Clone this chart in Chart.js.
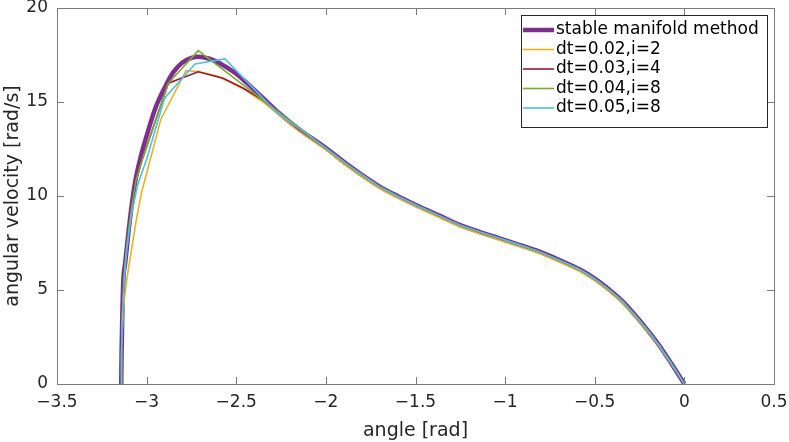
<!DOCTYPE html>
<html>
<head>
<meta charset="utf-8">
<script src="https://cdn.jsdelivr.net/npm/chart.js@4"></script>
<style>
  html, body { margin: 0; padding: 0; background: #fff; }
  #wrap { width: 789px; height: 442px; }
</style>
</head>
<body>
<div id="wrap"><canvas id="chart" width="789" height="442"></canvas></div>
<script>
// Axis ticks
const xTicks = [-3.5, -3, -2.5, -2, -1.5, -1, -0.5, 0, 0.5];
const yTicks = [0, 5, 10, 15, 20];

// Series names
const seriesNames = ['stable manifold method', 'dt=0.02,i=2', 'dt=0.03,i=4', 'dt=0.04,i=8', 'dt=0.05,i=8'];
const seriesColors = ['#7E2F8E', '#EDB120', '#A2142F', '#77AC30', '#4DBEEE'];

// Shared smooth tail (angle > -2)
const tailAngle = [-2.0, -1.87, -1.7, -1.59, -1.477, -1.36, -1.254, -1.14, -1.031, -0.92, -0.808, -0.7, -0.585, -0.5, -0.417, -0.35, -0.278, -0.2, -0.14, -0.07, 0];
const tailVel = [12.55, 11.6, 10.5, 9.95, 9.43, 8.93, 8.46, 8.08, 7.75, 7.4, 7.04, 6.6, 6.1, 5.6, 5.0, 4.45, 3.7, 2.8, 2.05, 1.05, 0];
const tailVelDt002 = [12.45, 11.5, 10.4, 9.85, 9.33, 8.83, 8.36, 7.98, 7.65, 7.3, 6.94, 6.5, 6.0, 5.5, 4.9, 4.35, 3.6, 2.72, 1.98, 1.0, 0];

// stable manifold method (head part)
const manifoldAngle = [-3.1416, -3.14, -3.136, -3.13, -3.12, -3.11, -3.089, -3.065, -3.03, -3.0, -2.95, -2.9, -2.85, -2.8, -2.75, -2.71, -2.65, -2.59, -2.5, -2.44, -2.35, -2.26, -2.15];
const manifoldVel = [0, 1.5, 3.5, 5.5, 6.4, 7.3, 9.08, 10.7, 12.2, 13.2, 14.7, 15.75, 16.6, 17.1, 17.35, 17.41, 17.3, 17.05, 16.5, 16.0, 15.2, 14.4, 13.55];

// dt=0.02, i=2
const dt002Angle = [-3.1416, -3.14, -3.135, -3.125, -3.11, -3.06, -3.028, -2.92, -2.78, -2.712, -2.6, -2.46, -2.35, -2.26, -2.15];
const dt002Vel = [0, 1.5, 3.0, 4.5, 5.6, 8.6, 10.2, 14.1, 16.67, 16.62, 16.35, 15.7, 15.0, 14.3, 13.45];

// dt=0.03, i=4
const dt003Angle = [-3.1416, -3.14, -3.136, -3.128, -3.115, -3.09, -3.06, -3.028, -2.879, -2.712, -2.573, -2.46, -2.35, -2.26, -2.15];
const dt003Vel = [0, 1.5, 3.5, 5.5, 7.0, 9.0, 10.8, 11.83, 16.0, 16.61, 16.26, 15.73, 15.1, 14.4, 13.55];

// dt=0.04, i=8
const dt004Angle = [-3.1416, -3.14, -3.136, -3.128, -3.115, -3.09, -3.06, -3.028, -2.879, -2.712];
const dt004Vel = [0, 1.5, 3.5, 5.5, 7.0, 9.0, 10.8, 11.83, 16.0, 17.73];

// dt=0.05, i=8
const dt005Angle = [-3.1416, -3.14, -3.136, -3.125, -3.11, -3.085, -3.05, -3.0, -2.9, -2.73, -2.563, -2.28];
const dt005Vel = [0, 1.5, 3.5, 5.5, 7.2, 9.0, 10.6, 11.95, 15.2, 17.02, 17.29, 14.5];

const FONT = 'DejaVu Sans';

function toPoints(xs, ys) {
  return xs.map((x, i) => ({ x: x, y: ys[i] }));
}

function fmtTick(v) {
  const s = String(Math.abs(v));
  return v < 0 ? '\u2212' + s : s;
}

const datasets = [
  { data: toPoints(manifoldAngle.concat(tailAngle), manifoldVel.concat(tailVel)), borderWidth: 4.5, cubicInterpolationMode: 'monotone', order: 5 },
  { data: toPoints(dt002Angle.concat(tailAngle), dt002Vel.concat(tailVelDt002)), borderWidth: 1.6, order: 4 },
  { data: toPoints(dt003Angle.concat(tailAngle), dt003Vel.concat(tailVel)), borderWidth: 1.6, order: 3 },
  { data: toPoints(dt004Angle.concat(tailAngle), dt004Vel.concat(tailVel)), borderWidth: 1.6, order: 2 },
  { data: toPoints(dt005Angle.concat(tailAngle), dt005Vel.concat(tailVel)), borderWidth: 1.6, order: 1 }
].map((d, i) => Object.assign(d, {
  label: seriesNames[i],
  borderColor: seriesColors[i],
  backgroundColor: seriesColors[i],
  pointRadius: 0,
  fill: false
}));

// Box, inward ticks and legend (MATLAB style)
const matlabFrame = {
  id: 'matlabFrame',
  afterDatasetsDraw(chart) {
    const { ctx, chartArea: a, scales } = chart;
    ctx.save();
    ctx.strokeStyle = '#7a7a7a';
    ctx.lineWidth = 1;
    ctx.beginPath();
    ctx.moveTo(a.left, a.top + 0.5);
    ctx.lineTo(a.right + 0.5, a.top + 0.5);
    ctx.lineTo(a.right + 0.5, a.bottom);
    xTicks.forEach(v => {
      const px = Math.round(scales.x.getPixelForValue(v)) + 0.5;
      ctx.moveTo(px, a.bottom); ctx.lineTo(px, a.bottom - 7);
      ctx.moveTo(px, a.top); ctx.lineTo(px, a.top + 7);
    });
    yTicks.forEach(v => {
      const py = Math.round(scales.y.getPixelForValue(v)) + 0.5;
      ctx.moveTo(a.left, py); ctx.lineTo(a.left + 7, py);
      ctx.moveTo(a.right, py); ctx.lineTo(a.right - 7, py);
    });
    ctx.stroke();

    // legend box
    const bx = 521.5, by = 15.5, bw = 246, bh = 112;
    ctx.fillStyle = '#fff';
    ctx.fillRect(bx, by, bw, bh);
    ctx.strokeStyle = '#262626';
    ctx.strokeRect(bx, by, bw, bh);
    ctx.font = '17px "' + FONT + '"';
    ctx.textBaseline = 'middle';
    ctx.fillStyle = '#000';
    chart.data.datasets.forEach((ds, i) => {
      const y = 30 + i * 19.5;
      ctx.strokeStyle = ds.borderColor;
      ctx.lineWidth = ds.borderWidth;
      ctx.beginPath();
      ctx.moveTo(523, y);
      ctx.lineTo(554, y);
      ctx.stroke();
      ctx.fillText(ds.label, 556, y);
    });
    ctx.restore();
  }
};

new Chart(document.getElementById('chart'), {
  type: 'line',
  data: { datasets: datasets },
  plugins: [matlabFrame],
  options: {
    responsive: false,
    animation: false,
    devicePixelRatio: 1,
    layout: { padding: { top: 8, right: 15, left: 0, bottom: 0 } },
    plugins: { legend: { display: false }, tooltip: { enabled: false } },
    scales: {
      x: {
        type: 'linear',
        min: -3.5,
        max: 0.5,
        afterBuildTicks: s => { s.ticks = xTicks.map(v => ({ value: v })); },
        afterFit: s => { s.height = 58; s.paddingLeft = 0; s.paddingRight = 0; },
        grid: { display: true, drawOnChartArea: false, drawTicks: false },
        border: { display: true, color: '#7a7a7a', width: 1 },
        ticks: {
          color: '#262626', padding: 8, maxRotation: 0, autoSkip: false,
          font: { family: FONT, size: 17 },
          callback: v => fmtTick(v)
        },
        title: { display: true, text: 'angle [rad]', color: '#262626', font: { family: FONT, size: 19 }, padding: { top: 0, bottom: 0 } }
      },
      y: {
        type: 'linear',
        min: 0,
        max: 20,
        afterBuildTicks: s => { s.ticks = yTicks.map(v => ({ value: v })); },
        afterFit: s => { s.width = 57; s.paddingTop = 0; s.paddingBottom = 0; },
        grid: { display: true, drawOnChartArea: false, drawTicks: false },
        border: { display: true, color: '#7a7a7a', width: 1 },
        ticks: {
          color: '#262626', padding: 9, autoSkip: false,
          font: { family: FONT, size: 17 },
          callback: v => fmtTick(v)
        },
        title: { display: true, text: 'angular velocity [rad/s]', color: '#262626', font: { family: FONT, size: 19 }, padding: { top: 2, bottom: 0 } }
      }
    }
  }
});
</script>
</body>
</html>
